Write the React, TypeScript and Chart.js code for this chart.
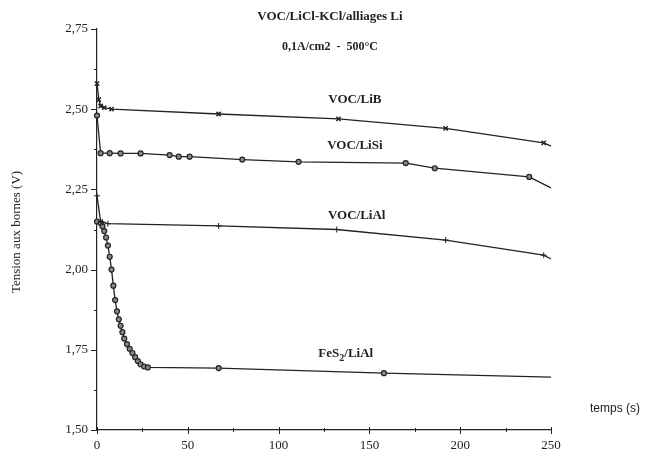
import React, { useEffect, useRef } from "react";
import { Chart, registerables } from "chart.js";

Chart.register(...registerables);

// Time (s) and voltage (V) readings
const T_LIB = [0, 1, 2, 4, 8, 67, 133, 192, 246, 250];
const V_LIB = [2.58, 2.53, 2.51, 2.505, 2.5, 2.485, 2.47, 2.44, 2.395, 2.385];

const T_LISI = [0, 2, 7, 13, 24, 40, 45, 51, 80, 111, 170, 186, 238, 250];
const V_LISI = [2.48, 2.363, 2.363, 2.362, 2.362, 2.357, 2.352, 2.352, 2.343, 2.336, 2.332, 2.316, 2.289, 2.255];

const T_LIAL = [0, 2, 3, 6, 67, 132, 192, 246, 250];
const V_LIAL = [2.23, 2.15, 2.148, 2.143, 2.136, 2.125, 2.092, 2.045, 2.033];

const T_FES2 = [0, 2, 3, 4, 5, 6, 7, 8, 9, 10, 11, 12, 13, 14, 15, 16.5, 18, 19.5, 21, 22.5, 24, 26, 28, 67, 158, 250];
const V_FES2 = [2.15, 2.145, 2.135, 2.12, 2.1, 2.075, 2.04, 2.0, 1.95, 1.905, 1.87, 1.845, 1.825, 1.805, 1.785, 1.768, 1.753, 1.74, 1.727, 1.715, 1.705, 1.698, 1.695, 1.693, 1.677, 1.665];

const X_MIN = 0;
const X_MAX = 250;
const X_MAJOR = [0, 50, 100, 150, 200, 250];
const X_MINOR = [25, 75, 125, 175, 225];
const Y_MIN = 1.5;
const Y_MAX = 2.75;
const Y_MINOR = [1.625, 1.875, 2.125, 2.375, 2.625];

const TITLE_1 = "VOC/LiCl-KCl/alliages Li";
const TITLE_2 = "0,1A/cm2  -  500°C";
const Y_TITLE = "Tension aux bornes (V)";
const X_TITLE = "temps (s)";

const SERIES_LABELS = [
  { text: "VOC/LiB", t: 142, v: 2.53 },
  { text: "VOC/LiSi", t: 142, v: 2.385 },
  { text: "VOC/LiAl", t: 143, v: 2.167 },
];
const FES2_LABEL = { t: 137, v: 1.738 };

const toXY = (ts: number[], vs: number[]) => ts.map((t, i) => ({ x: t, y: vs[i] }));

const INK = "#222";

export default function App() {
  const ref = useRef<HTMLCanvasElement | null>(null);

  useEffect(() => {
    if (!ref.current) return;
    const hideEnd = (ctx: any) => (ctx.raw && ctx.raw.x === X_MAX ? 0 : undefined);

    const decor = {
      id: "decor",
      afterDraw(chart: any) {
        const ctx = chart.ctx as CanvasRenderingContext2D;
        const xs = chart.scales.x;
        const ys = chart.scales.y;
        const { left, bottom } = chart.chartArea;
        ctx.save();
        ctx.strokeStyle = INK;
        ctx.lineWidth = 1;
        for (let v = Y_MIN; v <= Y_MAX + 1e-9; v += 0.25) {
          const py = Math.round(ys.getPixelForValue(v)) + 0.5;
          ctx.beginPath();
          ctx.moveTo(left - 6, py);
          ctx.lineTo(left, py);
          ctx.stroke();
        }
        Y_MINOR.forEach((v) => {
          const py = Math.round(ys.getPixelForValue(v)) + 0.5;
          ctx.beginPath();
          ctx.moveTo(left - 3, py);
          ctx.lineTo(left, py);
          ctx.stroke();
        });
        X_MAJOR.forEach((t) => {
          const px = Math.round(xs.getPixelForValue(t)) + 0.5;
          ctx.beginPath();
          ctx.moveTo(px, bottom - 3);
          ctx.lineTo(px, bottom + 4);
          ctx.stroke();
        });
        X_MINOR.forEach((t) => {
          const px = Math.round(xs.getPixelForValue(t)) + 0.5;
          ctx.beginPath();
          ctx.moveTo(px, bottom - 2);
          ctx.lineTo(px, bottom + 2);
          ctx.stroke();
        });

        ctx.fillStyle = INK;
        ctx.textAlign = "center";
        ctx.textBaseline = "middle";
        ctx.font = "bold 13px 'Liberation Serif', serif";
        ctx.fillText(TITLE_1, 330, 17);
        ctx.font = "bold 12px 'Liberation Serif', serif";
        ctx.fillText(TITLE_2, 330, 47);

        ctx.font = "bold 13px 'Liberation Serif', serif";
        SERIES_LABELS.forEach((l) => {
          ctx.fillText(l.text, xs.getPixelForValue(l.t), ys.getPixelForValue(l.v));
        });
        const fx = xs.getPixelForValue(FES2_LABEL.t);
        const fy = ys.getPixelForValue(FES2_LABEL.v);
        const p1 = "FeS";
        const p2 = "2";
        const p3 = "/LiAl";
        ctx.font = "bold 13px 'Liberation Serif', serif";
        const w1 = ctx.measureText(p1).width;
        const w3 = ctx.measureText(p3).width;
        ctx.font = "bold 10px 'Liberation Serif', serif";
        const w2 = ctx.measureText(p2).width;
        const total = w1 + w2 + w3;
        let cx = fx - total / 2;
        ctx.textAlign = "left";
        ctx.font = "bold 13px 'Liberation Serif', serif";
        ctx.fillText(p1, cx, fy);
        cx += w1;
        ctx.font = "bold 10px 'Liberation Serif', serif";
        ctx.fillText(p2, cx, fy + 5);
        cx += w2;
        ctx.font = "bold 13px 'Liberation Serif', serif";
        ctx.fillText(p3, cx, fy);

        ctx.textAlign = "center";
        ctx.font = "12px 'Liberation Sans', sans-serif";
        ctx.fillText(X_TITLE, 615, 409);
        ctx.save();
        ctx.translate(17, 232);
        ctx.rotate(-Math.PI / 2);
        ctx.font = "13px 'Liberation Serif', serif";
        ctx.fillText(Y_TITLE, 0, 0);
        ctx.restore();
        ctx.restore();
      },
    };

    const common = {
      showLine: true,
      borderColor: INK,
      borderWidth: 1.3,
      tension: 0,
      clip: false as any,
    };

    const chart = new Chart(ref.current, {
      type: "scatter",
      data: {
        datasets: [
          {
            ...common,
            label: "VOC/LiB",
            data: toXY(T_LIB, V_LIB),
            pointStyle: "crossRot",
            pointRadius: (c: any) => hideEnd(c) ?? 3,
            pointBorderWidth: 1.5,
            pointBorderColor: INK,
            pointBackgroundColor: INK,
          },
          {
            ...common,
            label: "VOC/LiSi",
            data: toXY(T_LISI, V_LISI),
            pointStyle: "circle",
            pointRadius: (c: any) => hideEnd(c) ?? 2.5,
            pointBorderWidth: 1.2,
            pointBorderColor: INK,
            pointBackgroundColor: "#888",
          },
          {
            ...common,
            label: "VOC/LiAl",
            data: toXY(T_LIAL, V_LIAL),
            pointStyle: "cross",
            pointRadius: (c: any) => hideEnd(c) ?? 3,
            pointBorderWidth: 1,
            pointBorderColor: INK,
            pointBackgroundColor: INK,
          },
          {
            ...common,
            label: "FeS2/LiAl",
            data: toXY(T_FES2, V_FES2),
            pointStyle: "circle",
            pointRadius: (c: any) => hideEnd(c) ?? 2.5,
            pointBorderWidth: 1.2,
            pointBorderColor: INK,
            pointBackgroundColor: "#888",
          },
        ],
      },
      options: {
        animation: false,
        responsive: false,
        layout: { padding: { left: 0, top: 29, right: 97, bottom: 0 } },
        plugins: { legend: { display: false }, tooltip: { enabled: false }, title: { display: false } },
        scales: {
          x: {
            type: "linear",
            min: X_MIN,
            max: X_MAX,
            grid: { display: false, drawTicks: false },
            border: { display: true, color: INK, width: 1.2 },
            ticks: {
              stepSize: 50,
              padding: 8,
              maxRotation: 0,
              color: INK,
              font: { family: "'Liberation Serif', serif", size: 13 },
            },
            afterFit: (s: any) => {
              s.height = 22;
            },
          },
          y: {
            type: "linear",
            min: Y_MIN,
            max: Y_MAX,
            grid: { display: false, drawTicks: false },
            border: { display: true, color: INK, width: 1.2 },
            ticks: {
              stepSize: 0.25,
              padding: 9,
              color: INK,
              font: { family: "'Liberation Serif', serif", size: 13 },
              callback: (v: any) => Number(v).toFixed(2).replace(".", ","),
            },
            afterFit: (s: any) => {
              s.width = 97;
            },
          },
        },
      },
      plugins: [decor],
    } as any);
    return () => chart.destroy();
  }, []);

  return (
    <div style={{ position: "absolute", left: 0, top: 0, width: 648, height: 452, background: "#fff" }}>
      <canvas ref={ref} width={648} height={452} style={{ display: "block" }} />
    </div>
  );
}
